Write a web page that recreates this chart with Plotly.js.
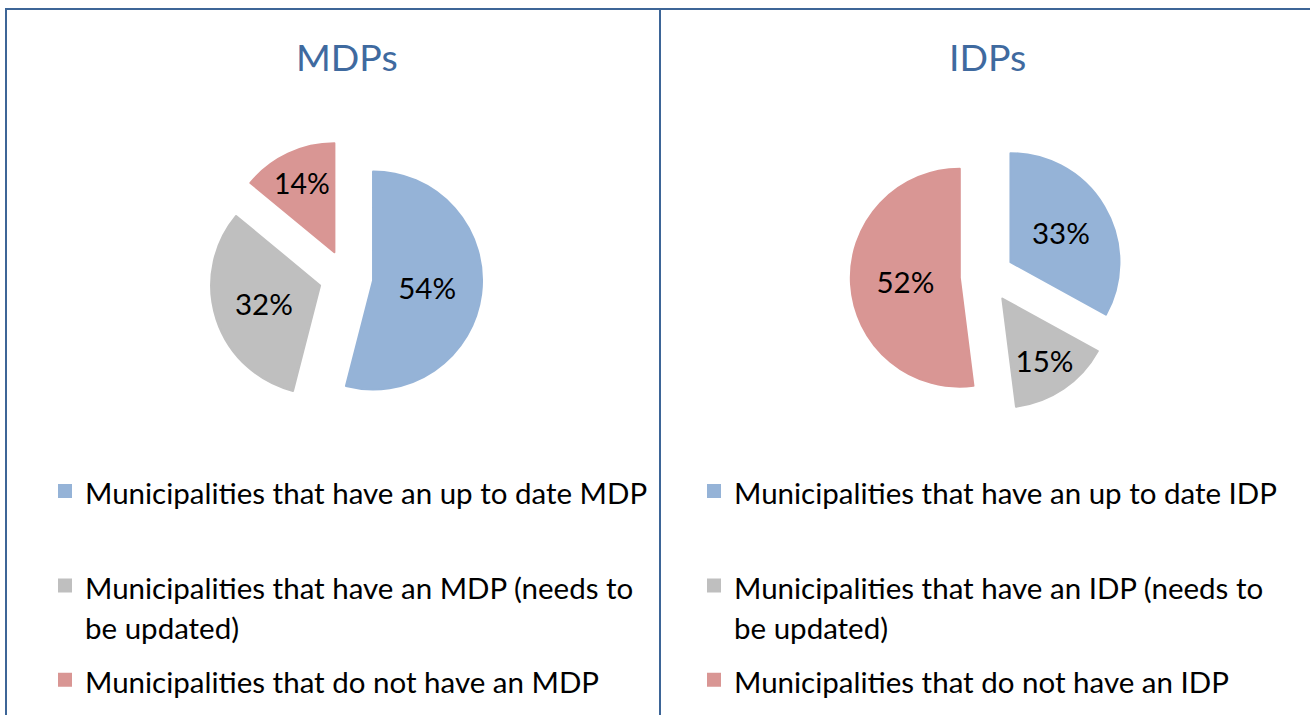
<!DOCTYPE html>
<html>
<head>
<meta charset="utf-8">
<script src="https://cdn.plot.ly/plotly-3.0.1.min.js"></script>
<style>
html,body{margin:0;padding:0;background:#fff;}
#chart{width:1310px;height:715px;}
</style>
</head>
<body>
<div id="chart"></div>
<script>
// ---- data ----
const panelTitles = ["MDPs", "IDPs"];
const mdpLabels = [
  "Municipalities that have an up to date MDP",
  "Municipalities that have an MDP (needs to<br>be updated)",
  "Municipalities that do not have an MDP"
];
const mdpValues = [54, 32, 14];
const idpLabels = [
  "Municipalities that have an up to date IDP",
  "Municipalities that have an IDP (needs to<br>be updated)",
  "Municipalities that do not have an IDP"
];
const idpValues = [33, 15, 52];
const sliceColors = ["#95B3D7", "#BFBFBF", "#D99694"];

// ---- styling ----
const W = 1310, H = 715;
const FONT = "Lato, 'Open Sans', sans-serif";
const borderColor = "#3D6597";
const titleColor = "#3F6A9F";
const textSize = 29.5;          // visible glyph size of legend / labels
const legLine = 10.15;          // legend line pitch (px) used to space the entries
const legendFontSize = legLine / 1.3;
const pullFrac = 0.25;
const NB = "\u00a0";

// legend entries: fixed 9-line slots so entries are evenly spaced like the original,
// wrapped text continues 4 pitches (~40px) lower
function legendText(label, isLast) {
  const parts = label.split("<br>");
  const out = [NB];
  parts.forEach((p, i) => {
    if (i > 0) out.push(NB, NB, NB);
    out.push('<span style="font-size:' + textSize + 'px">' + p + '</span>');
  });
  if (!isLast) while (out.length < 9) out.push(NB);
  return out.join("<br>");
}

function pieDomain(cx, cy, box) {
  return {
    x: [(cx - box / 2) / W, (cx + box / 2) / W],
    y: [1 - (cy + box / 2) / H, 1 - (cy - box / 2) / H]
  };
}

const box = 109 * 2 * (1 + pullFrac);

function makePie(labels, values, cx, cy, legendId) {
  return {
    type: "pie",
    labels: labels.map((l, i) => legendText(l, i === labels.length - 1)),
    values: values,
    sort: false,
    direction: "clockwise",
    rotation: 0,
    pull: values.map(() => pullFrac),
    marker: {colors: sliceColors, line: {width: 2, color: sliceColors}},
    textinfo: "percent",
    texttemplate: "%{percent:.0%}",
    textposition: "inside",
    insidetextorientation: "horizontal",
    textfont: {family: FONT, size: textSize, color: "#000"},
    hoverinfo: "percent",
    domain: pieDomain(cx, cy, box),
    legend: legendId
  };
}

const traces = [
  makePie(mdpLabels, mdpValues, 346, 277, "legend"),
  makePie(idpLabels, idpValues, 987, 276, "legend2")
];

const legendCommon = {
  orientation: "v",
  valign: "top",
  bgcolor: "rgba(0,0,0,0)",
  borderwidth: 0,
  font: {family: FONT, size: legendFontSize, color: "#000"},
  xanchor: "left",
  yanchor: "top",
  traceorder: "normal"
};

const legendTop = 479.5;
const layout = {
  width: W,
  height: H,
  margin: {l: 0, r: 0, t: 0, b: 0, pad: 0, autoexpand: false},
  paper_bgcolor: "#fff",
  plot_bgcolor: "#fff",
  font: {family: FONT},
  showlegend: true,
  legend: Object.assign({}, legendCommon, {x: 45 / W, y: 1 - legendTop / H}),
  legend2: Object.assign({}, legendCommon, {x: 694 / W, y: 1 - legendTop / H}),
  annotations: [
    {text: panelTitles[0], x: 347 / W, y: 1 - 56 / H, xref: "paper", yref: "paper",
     xanchor: "center", yanchor: "middle", showarrow: false,
     font: {family: FONT, size: 37.5, color: titleColor}},
    {text: panelTitles[1], x: 987 / W, y: 1 - 56 / H, xref: "paper", yref: "paper",
     xanchor: "center", yanchor: "middle", showarrow: false,
     font: {family: FONT, size: 37.5, color: titleColor}}
  ],
  shapes: [
    {type: "line", xref: "paper", yref: "paper", x0: 6 / W, x1: 6 / W, y0: 0, y1: 1 - 9 / H,
     line: {color: borderColor, width: 2}},
    {type: "line", xref: "paper", yref: "paper", x0: 660 / W, x1: 660 / W, y0: 0, y1: 1 - 9 / H,
     line: {color: borderColor, width: 2}},
    {type: "line", xref: "paper", yref: "paper", x0: 5 / W, x1: 1, y0: 1 - 9 / H, y1: 1 - 9 / H,
     line: {color: borderColor, width: 2}}
  ]
};

Plotly.newPlot("chart", traces, layout, {displayModeBar: false});
</script>
</body>
</html>
